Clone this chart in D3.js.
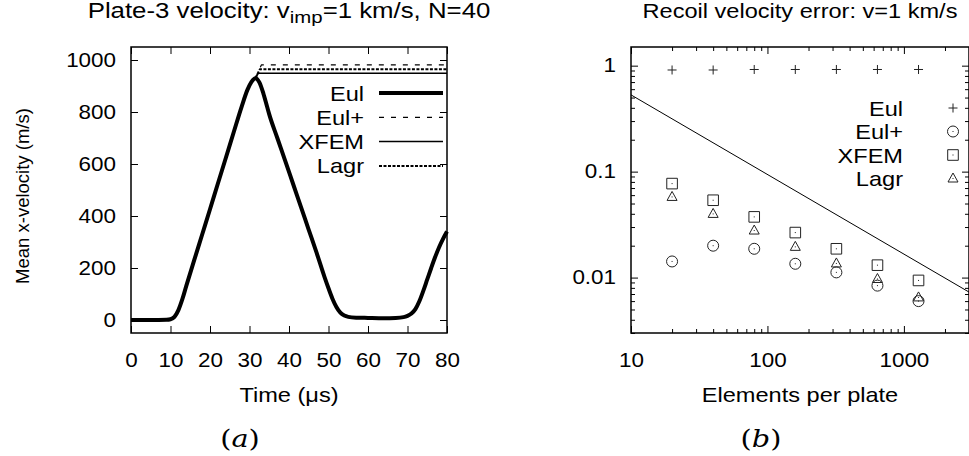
<!DOCTYPE html>
<html>
<head>
<meta charset="utf-8">
<script src="https://cdn.jsdelivr.net/npm/d3@7"></script>
<style>
  body { margin: 0; background: #fff; }
  svg text { font-family: "Liberation Sans", Arial, sans-serif; fill: #000; }
</style>
</head>
<body>
<svg width="969" height="456"></svg>
<script>
// panel (a): plate-3 mean x-velocity vs time
var eulT = [0, 5, 9, 10, 11, 12, 13, 14, 16, 18, 20, 22, 24, 26, 28, 29.5, 30.5, 31.5, 32.5, 33.5, 34.5, 35, 37, 39, 41, 43, 45, 47, 49, 50, 51, 52, 53, 54, 55, 57, 60, 64, 67, 69, 70, 71, 72, 73, 74, 75, 76, 77, 78, 79, 80];
var eulV = [0, 0, 1, 3, 12, 38, 80, 131, 230, 328, 426, 525, 623, 722, 820, 886, 916, 930, 914, 872, 818, 791, 702, 614, 525, 436, 347, 258, 165, 122, 82, 50, 28, 17, 12, 9, 8, 7, 8, 11, 16, 25, 42, 72, 112, 156, 200, 242, 280, 312, 340];
var eulPlusT = [31.5, 33, 80];
var eulPlusV = [930, 981, 981];
var xfemT = [31.5, 32.2, 80];
var xfemV = [930, 949, 949];
var lagrT = [31.5, 32.6, 80];
var lagrV = [930, 964, 964];
var timeTicks = [0, 10, 20, 30, 40, 50, 60, 70, 80];
var velTicks = [0, 200, 400, 600, 800, 1000];

// panel (b): recoil velocity error vs elements per plate
var elements = [20, 40, 80, 160, 320, 640, 1280];
var errEul = [0.91, 0.91, 0.92, 0.92, 0.92, 0.92, 0.92];
var errEulPlus = [0.0142, 0.0200, 0.0187, 0.0135, 0.0112, 0.0084, 0.0060];
var errXfem = [0.0771, 0.0537, 0.0374, 0.0266, 0.0187, 0.0131, 0.0094];
var errLagr = [0.0577, 0.0399, 0.0278, 0.0195, 0.0136, 0.0097, 0.0065];
var refN = [10, 3000];
var refErr = [0.53, 0.0073];
var elemTicks = [10, 100, 1000];
var errTicks = [0.01, 0.1, 1];

var SX = 1.15;   // the original figure is a bit wider than tall, text included
var svg = d3.select('svg');

function label(parent, x, y, size, anchor, sx)
{
  return parent.append('text')
    .attr('transform', 'translate(' + x + ',' + y + ') scale(' + (sx || SX) + ',1)')
    .attr('text-anchor', anchor || 'middle')
    .attr('font-size', size);
}

function mirrorAxes(g, x, y, xt, yt, w, h, minorX, minorY)
{
  var fmtNone = function(){ return ''; };
  var fmt = function(d){ return String(d); };
  g.append('g').attr('transform', 'translate(0,' + h + ')')
    .call(d3.axisBottom(x).tickValues(xt).tickSizeInner(-7).tickSizeOuter(0).tickPadding(20).tickFormat(fmt));
  g.append('g')
    .call(d3.axisTop(x).tickValues(xt).tickSizeInner(-7).tickSizeOuter(0).tickFormat(fmtNone));
  g.append('g')
    .call(d3.axisLeft(y).tickValues(yt).tickSizeInner(-7).tickSizeOuter(0).tickPadding(15 / SX).tickFormat(fmt));
  g.append('g').attr('transform', 'translate(' + w + ',0)')
    .call(d3.axisRight(y).tickValues(yt).tickSizeInner(-7).tickSizeOuter(0).tickFormat(fmtNone));
  if (minorX) {
    g.append('g').attr('transform', 'translate(0,' + h + ')')
      .call(d3.axisBottom(x).tickValues(minorX).tickSizeInner(-4).tickSizeOuter(0).tickFormat(fmtNone));
    g.append('g')
      .call(d3.axisTop(x).tickValues(minorX).tickSizeInner(-4).tickSizeOuter(0).tickFormat(fmtNone));
  }
  if (minorY) {
    g.append('g')
      .call(d3.axisLeft(y).tickValues(minorY).tickSizeInner(-4).tickSizeOuter(0).tickFormat(fmtNone));
    g.append('g').attr('transform', 'translate(' + w + ',0)')
      .call(d3.axisRight(y).tickValues(minorY).tickSizeInner(-4).tickSizeOuter(0).tickFormat(fmtNone));
  }
  g.selectAll('.domain').remove();
  g.selectAll('.tick line').attr('stroke', '#000').attr('stroke-width', 1);
  g.selectAll('.tick text').attr('font-size', 19.5).attr('transform', 'scale(' + SX + ',1)');
  g.append('rect').attr('width', w).attr('height', h)
    .attr('fill', 'none').attr('stroke', '#000').attr('stroke-width', 1.5);
}

// ---------- (a) ----------
var wA = 316, hA = 286;
var gA = svg.append('g').attr('transform', 'translate(131,47)');
var xA = d3.scaleLinear().domain([0, 80]).range([0, wA]);
var yA = d3.scaleLinear().domain([-50, 1050]).range([hA, 0]);

var lineA = d3.line().x(d => xA(d[0])).y(d => yA(d[1]));
var seriesA = [
  {name: 'Eul',   t: eulT,     v: eulV,     width: 4,   dash: null,  curve: d3.curveMonotoneX},
  {name: 'Eul+',  t: eulPlusT, v: eulPlusV, width: 1.2, dash: '5,7', curve: d3.curveLinear},
  {name: 'XFEM',  t: xfemT,    v: xfemV,    width: 1.5, dash: null,  curve: d3.curveLinear},
  {name: 'Lagr',  t: lagrT,    v: lagrV,    width: 2,   dash: '3,1.5', curve: d3.curveLinear}
];

seriesA.forEach(function(s){
  gA.append('path')
    .datum(d3.zip(s.t, s.v))
    .attr('d', lineA.curve(s.curve))
    .attr('fill', 'none')
    .attr('stroke', '#000')
    .attr('stroke-width', s.width)
    .attr('stroke-dasharray', s.dash)
    .attr('stroke-linejoin', 'round');
});

mirrorAxes(gA, xA, yA, timeTicks, velTicks, wA, hA);

var legA = gA.selectAll('.legA').data(seriesA).enter().append('g')
  .attr('transform', (d, i) => 'translate(0,' + (46 + i * 24.3) + ')');
legA.each(function(d){ label(d3.select(this), 233, 7.5, 20.5, 'end').text(d.name); });
legA.append('line').attr('x1', 248).attr('x2', 312).attr('y1', 0).attr('y2', 0)
  .attr('stroke', '#000').attr('stroke-width', d => d.width).attr('stroke-dasharray', d => d.dash);

// titles and labels (a)
var tA = label(svg, 289, 18, 21.5, 'middle', 1.2);
tA.append('tspan').text('Plate-3 velocity: v');
tA.append('tspan').attr('font-size', 17).attr('dy', 5).text('imp');
tA.append('tspan').attr('dy', -5).text('=1 km/s, N=40');

svg.append('text').attr('transform', 'translate(29,196) rotate(-90)')
  .attr('text-anchor', 'middle').attr('font-size', 18.5).text('Mean x-velocity (m/s)');
label(svg, 289, 402, 20.5).text('Time (\u03bcs)');

// ---------- (b) ----------
var wB = 338, hB = 286;
var gB = svg.append('g').attr('transform', 'translate(631,47)');
var xB = d3.scaleLog().domain([10, 3000]).range([0, wB]);
var yB = d3.scaleLog().domain([0.003, 1.5]).range([hB, 0]);

var minorXB = [20, 30, 40, 50, 60, 70, 80, 90, 200, 300, 400, 500, 600, 700, 800, 900, 2000, 3000];
var minorYB = [0.003, 0.004, 0.005, 0.006, 0.007, 0.008, 0.009, 0.02, 0.03, 0.04, 0.05, 0.06, 0.07, 0.08, 0.09,
               0.2, 0.3, 0.4, 0.5, 0.6, 0.7, 0.8, 0.9];

gB.append('path')
  .datum(d3.zip(refN, refErr))
  .attr('d', d3.line().x(d => xB(d[0])).y(d => yB(d[1])))
  .attr('fill', 'none').attr('stroke', '#000').attr('stroke-width', 1);

var markers = {
  plus: 'M-4.5,0H4.5M0,-4.5V4.5',
  circle: 'M5.5,0A5.5,5.5 0 1,1 -5.5,0A5.5,5.5 0 1,1 5.5,0Z',
  square: 'M-5.3,-5.3H5.3V5.3H-5.3Z',
  triangle: 'M0,-5.5L5,3.5H-5Z'
};
var seriesB = [
  {name: 'Eul',  err: errEul,     mark: 'plus',     dot: false},
  {name: 'Eul+', err: errEulPlus, mark: 'circle',   dot: true},
  {name: 'XFEM', err: errXfem,    mark: 'square',   dot: true},
  {name: 'Lagr', err: errLagr,    mark: 'triangle', dot: true}
];

function drawMarker(sel, s)
{
  sel.append('path').attr('d', markers[s.mark])
    .attr('fill', 'none').attr('stroke', '#222').attr('stroke-width', 1);
  if (s.dot) sel.append('rect').attr('x', -0.5).attr('y', -0.5).attr('width', 1).attr('height', 1).attr('fill', '#222');
}

seriesB.forEach(function(s){
  gB.selectAll(null)
    .data(d3.zip(elements, s.err))
    .enter()
    .append('g')
      .attr('transform', d => 'translate(' + xB(d[0]) + ',' + yB(d[1]) + ')')
      .each(function(){ drawMarker(d3.select(this), s); });
});

mirrorAxes(gB, xB, yB, elemTicks, errTicks, wB, hB, minorXB, minorYB);

var legB = gB.selectAll('.legB').data(seriesB).enter().append('g')
  .attr('transform', (d, i) => 'translate(0,' + (61 + i * 23.5) + ')');
legB.each(function(d){ label(d3.select(this), 272, 7.5, 20.5, 'end').text(d.name); });
legB.append('g').attr('transform', 'translate(322,0)')
  .each(function(d){ drawMarker(d3.select(this), d); });

label(svg, 800, 18, 20.5).text('Recoil velocity error: v=1 km/s');
label(svg, 800, 402, 20.5).text('Elements per plate');

// sub-figure captions
function caption(x, letter)
{
  var t = label(svg, x, 447, 25).style('font-family', '"DejaVu Serif", "Liberation Serif", serif');
  t.append('tspan').text('(');
  t.append('tspan').attr('font-style', 'italic').text(letter);
  t.append('tspan').text(')');
}
caption(240, 'a');
caption(761, 'b');
</script>
</body>
</html>
